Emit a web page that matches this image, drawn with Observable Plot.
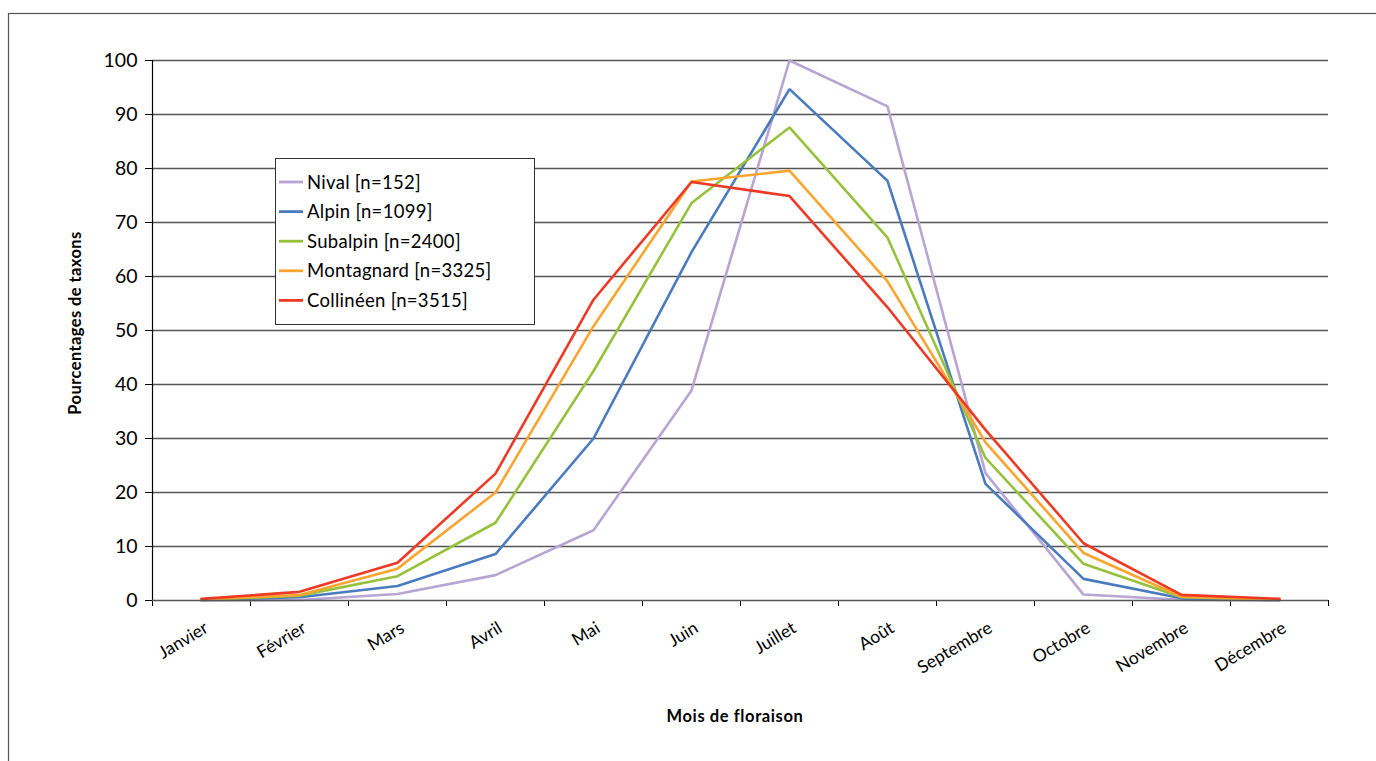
<!DOCTYPE html>
<html>
<head>
<meta charset="utf-8">
<script src="https://cdn.jsdelivr.net/npm/d3@7"></script>
<script src="https://cdn.jsdelivr.net/npm/@observablehq/plot@0.6"></script>
<style>
  html, body { margin: 0; padding: 0; background: #fff; }
  #chart svg { display: block; font-family: Lato, "DejaVu Sans", sans-serif; }
</style>
</head>
<body>
<div id="chart"></div>
<script>
const months = ["Janvier","Février","Mars","Avril","Mai","Juin","Juillet","Août","Septembre","Octobre","Novembre","Décembre"];
const yTicks = [0,10,20,30,40,50,60,70,80,90,100];
const seriesNames = ["Nival [n=152]","Alpin [n=1099]","Subalpin [n=2400]","Montagnard [n=3325]","Collinéen [n=3515]"];
const seriesColors = ["#b7a5d3","#4a7bbf","#96c23b","#fba52f","#ee3a24"];
const nival      = [0.0, 0.1, 1.2, 4.7, 13.0, 38.9, 100.0, 91.5, 23.6, 1.1, 0.15, 0.0];
const alpin      = [0.1, 0.6, 2.7, 8.6, 30.0, 64.5, 94.7, 77.7, 21.6, 4.0, 0.4, 0.1];
const subalpin   = [0.1, 0.9, 4.5, 14.4, 42.5, 73.6, 87.6, 67.2, 26.4, 6.8, 0.6, 0.1];
const montagnard = [0.2, 1.0, 5.9, 20.0, 50.8, 77.6, 79.6, 59.1, 29.3, 8.8, 0.7, 0.15];
const collineen  = [0.3, 1.6, 7.0, 23.5, 55.7, 77.5, 74.9, 54.3, 31.6, 10.6, 1.05, 0.3];
const xTitle = "Mois de floraison";
const yTitle = "Pourcentages de taxons";

const allSeries = [nival, alpin, subalpin, montagnard, collineen];
const rows = [];
allSeries.forEach((vals, s) => vals.forEach((v, i) => rows.push({series: seriesNames[s], pos: i + 0.5, value: v})));

const W = 1376, H = 761;
const chart = Plot.plot({
  width: W,
  height: H,
  marginLeft: 152,
  marginRight: 48,
  marginTop: 60,
  marginBottom: 161,
  style: {background: "#fff", fontSize: "16px", color: "#000"},
  x: {type: "linear", domain: [0, 12]},
  y: {domain: [0, 100]},
  color: {domain: seriesNames, range: seriesColors},
  marks: [
    Plot.ruleY(yTicks.filter(d => d > 0), {stroke: "#555", strokeWidth: 1.3}),
    Plot.axisY({ticks: yTicks, tickSize: 7, tickPadding: 8, label: null, fontSize: 19.5, stroke: "#000"}),
    Plot.axisX({ticks: d3.range(13), tickSize: 6, tickFormat: () => "", label: null, stroke: "#000"}),
    Plot.text(months, {x: (d, i) => i + 0.5, y: 0, text: d => d, rotate: -31, textAnchor: "end", dx: 5, dy: 26, fontSize: 17.5}),
    Plot.lineY(rows, {x: "pos", y: "value", z: "series", stroke: "series", strokeWidth: 2.6, strokeLinejoin: "miter"}),
    Plot.ruleX([0], {stroke: "#000", strokeWidth: 1.2}),
    Plot.ruleY([0], {stroke: "#555", strokeWidth: 1.5})
  ]
});
document.getElementById("chart").appendChild(chart);

const svg = d3.select(chart);
// outer frame
svg.append("rect").attr("x", 8.5).attr("y", 13.5).attr("width", 1400).attr("height", 800)
  .attr("fill", "none").attr("stroke", "#555").attr("stroke-width", 1.2);
// axis titles
svg.append("text").attr("transform", "translate(81,323) rotate(-90)")
  .attr("text-anchor", "middle").attr("font-weight", "bold").attr("font-size", 16.5)
  .attr("letter-spacing", 0.4).text(yTitle);
svg.append("text").attr("x", 735).attr("y", 722)
  .attr("text-anchor", "middle").attr("font-weight", "bold").attr("font-size", 16.5)
  .attr("letter-spacing", 0.6).text(xTitle);
// legend
const lg = svg.append("g").attr("text-anchor", "start");
lg.append("rect").attr("x", 275.5).attr("y", 158.5).attr("width", 259).attr("height", 166)
  .attr("fill", "#fff").attr("stroke", "#333").attr("stroke-width", 1);
seriesNames.forEach((name, i) => {
  const y = 182 + i * 29.6;
  lg.append("line").attr("x1", 279).attr("x2", 303).attr("y1", y).attr("y2", y)
    .attr("stroke", seriesColors[i]).attr("stroke-width", 2.8);
  lg.append("text").attr("x", 307).attr("y", y).attr("dy", "0.36em")
    .attr("text-anchor", "start").attr("font-size", 18.5).attr("letter-spacing", 0.3).text(name);
});
</script>
</body>
</html>
